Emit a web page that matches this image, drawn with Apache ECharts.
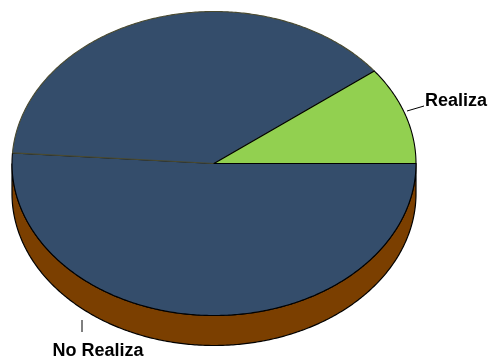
<!DOCTYPE html>
<html>
<head>
<meta charset="utf-8">
<script src="https://cdn.jsdelivr.net/npm/echarts@6/dist/echarts.min.js"></script>
<style>
  html, body { margin: 0; padding: 0; background: #fff; }
  #chart { width: 490px; height: 363px; }
</style>
</head>
<body>
<div id="chart"></div>
<script>
// Slice data
const categories = ['Realiza', 'No Realiza'];
const values = [10.4, 89.6];

// Styling
const sliceColors = ['#92D050', '#344D6B'];
const sideColor = '#7B3F00';
const labelFont = 'bold 18px "Liberation Sans", Arial, sans-serif';

// Tilted-disc geometry (pixels)
const geo = { cx: 214, cy: 163.5, rx: 202, ry: 152, depth: 30 };
const START = 0;                       // first slice starts at 3 o'clock, runs counter-clockwise
const SPLIT = 176 * Math.PI / 180;     // back/front split of large slices on the top face
const TAU = Math.PI * 2;
const total = values.reduce((a, b) => a + b, 0);

// Label placement (text anchor and leader line)
const labelLayout = [
  { x: 425, y: 101.5, line: [[407, 111], [424, 106]] },
  { x: 52.5, y: 351.5, line: [[82, 320], [82, 332]] }
];

function pt(t, dy) {
  return [geo.cx + geo.rx * Math.cos(t), geo.cy - geo.ry * Math.sin(t) + (dy || 0)];
}
function arc(a, b, dy) {
  const n = Math.max(2, Math.ceil(Math.abs(b - a) / 0.01));
  const out = [];
  for (let k = 0; k <= n; k++) out.push(pt(a + (b - a) * k / n, dy));
  return out;
}
function sliceAngles(i, v) {
  let before = 0;
  for (let k = 0; k < i; k++) before += values[k];
  const a0 = START + before / total * TAU;
  return [a0, a0 + v / total * TAU];
}

// Outer wall: only the front half (angles between PI and 2PI) is visible
function renderSide(params, api) {
  const [a0, a1] = sliceAngles(params.dataIndex, api.value(0));
  const children = [];
  [[Math.PI, TAU], [3 * Math.PI, 2 * TAU]].forEach(([lo, hi]) => {
    const s = Math.max(a0, lo), e = Math.min(a1, hi);
    if (e > s) {
      const top = arc(s, e, 0);
      const bottom = arc(e, s, geo.depth);
      children.push({
        type: 'polygon',
        shape: { points: top.concat(bottom) },
        style: { fill: sideColor, stroke: '#000', lineWidth: 1.2 }
      });
    }
  });
  return { type: 'group', children };
}

// Top face, with leader line and category label
function renderTop(params, api) {
  const i = params.dataIndex;
  const [a0, a1] = sliceAngles(i, api.value(0));
  const center = [geo.cx, geo.cy];
  const layer = i === 0 ? 10 : 0;      // smaller slice sits above the big one
  const children = [];
  const face = (s, e, stroke, z2) => ({
    type: 'polygon',
    z2,
    shape: { points: [center].concat(arc(s, e, 0)) },
    style: { fill: sliceColors[i], stroke, lineWidth: 1.1, lineJoin: 'round' }
  });
  if (a0 < SPLIT && a1 > SPLIT) {
    children.push(face(SPLIT, a1, '#000', layer));
    children.push(face(a0, SPLIT, '#4a4a30', layer + 1));
  } else {
    children.push(face(a0, a1, '#000', layer));
  }
  const lay = labelLayout[i];
  children.push({
    type: 'polyline',
    z2: 20,
    shape: { points: lay.line },
    style: { stroke: '#000', lineWidth: 1, fill: null }
  });
  children.push({
    type: 'text',
    z2: 20,
    style: {
      text: categories[i], x: lay.x, y: lay.y,
      font: labelFont, fill: '#000',
      align: 'left', verticalAlign: 'middle'
    }
  });
  return { type: 'group', children };
}

const chart = echarts.init(document.getElementById('chart'), null, { renderer: 'canvas' });
const seriesData = values.map((v, i) => ({ name: categories[i], value: v }));
chart.setOption({
  animation: false,
  backgroundColor: '#fff',
  series: [
    { type: 'custom', coordinateSystem: 'none', renderItem: renderSide, data: seriesData, z: 1 },
    { type: 'custom', coordinateSystem: 'none', renderItem: renderTop, data: seriesData, z: 2 }
  ]
});
</script>
</body>
</html>
